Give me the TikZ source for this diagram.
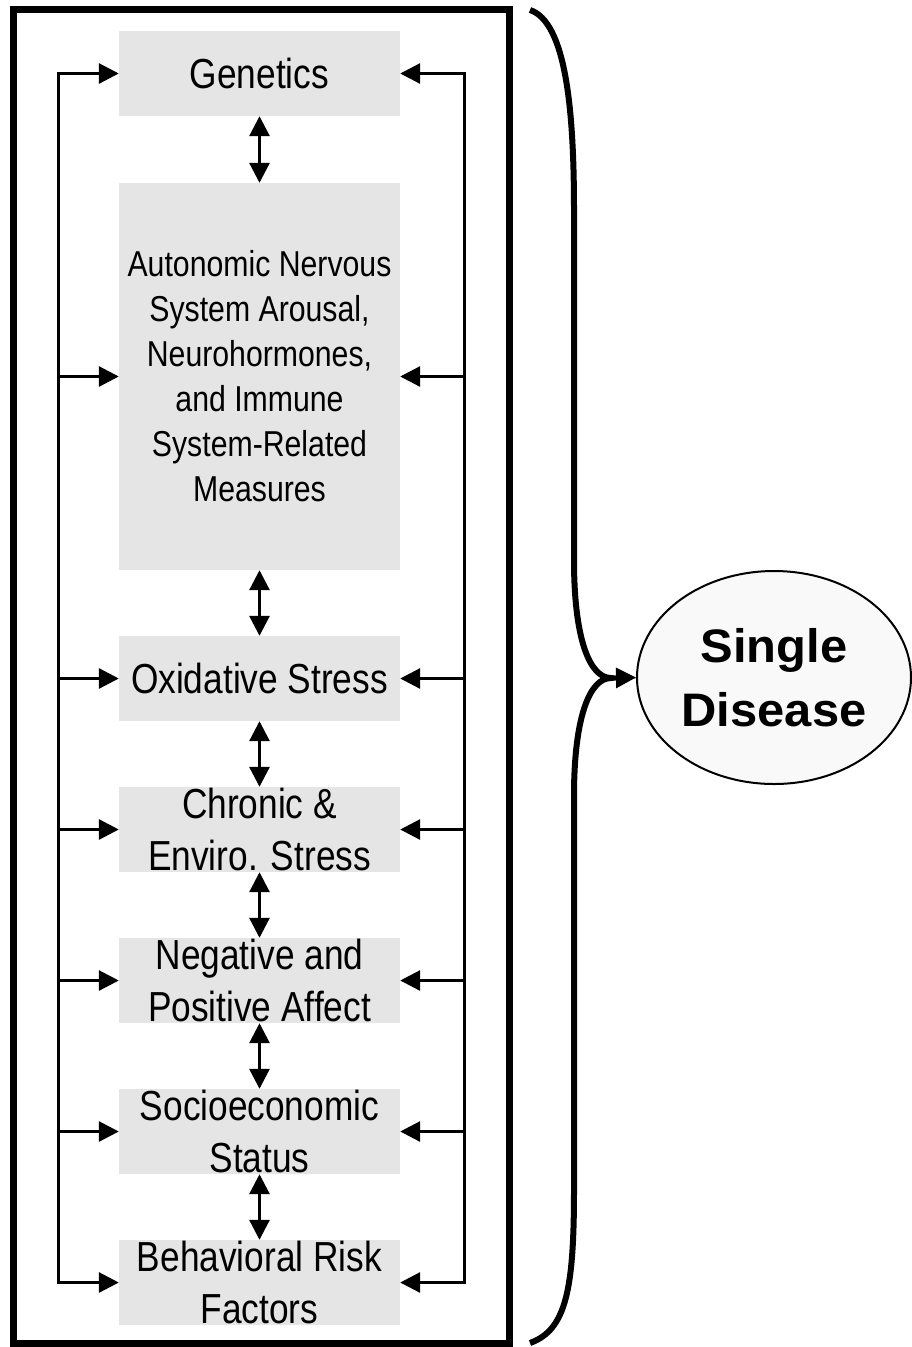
\documentclass[tikz,border=0pt]{standalone}
\usepackage{fontspec}
\setmainfont{Liberation Sans}
\newfontfamily\narrowfont{Liberation Sans}[FakeStretch=0.84]
\newfontfamily\widefont{Liberation Sans}[FakeStretch=1.04]
\usetikzlibrary{arrows.meta,shapes.geometric}
\definecolor{boxgray}{RGB}{229,229,229}
\definecolor{ellfill}{RGB}{249,249,249}
\begin{document}
\begin{tikzpicture}[x=1pt,y=-1pt,
  factor/.style={fill=boxgray, minimum width=281pt, minimum height=85pt,
    inner sep=0pt, align=center, font=\narrowfont\fontsize{42}{52}\selectfont},
  conn/.style={line width=3pt, -{Triangle[length=20pt,width=20pt]}},
  dbl/.style={line width=3pt, {Triangle[length=20pt,width=20pt]}-{Triangle[length=20pt,width=20pt]}},
  frame/.style={line width=7pt},
  bracestyle/.style={line width=6pt},
  disease/.style={ellipse, draw, line width=2pt, fill=ellfill,
    minimum width=274pt, minimum height=213pt, inner sep=0pt, align=center,
    font=\widefont\bfseries\fontsize{47}{64}\selectfont}
]
\useasboundingbox (0,0) rectangle (911,1347);
% outer frame
\draw[frame] (13,9) rectangle (509,1343);
% factor boxes
\node[factor] (gen) at (259.5,73.5) {Genetics};
\node[factor, minimum height=387pt, font=\narrowfont\fontsize{36}{45}\selectfont] (ans) at (259.5,376.5)
  {Autonomic Nervous\\System Arousal,\\Neurohormones,\\and Immune\\System-Related\\Measures};
\node[factor] (ox) at (259.5,678.5) {Oxidative Stress};
\node[factor] (chr) at (259.5,829.5) {Chronic \&\\Enviro. Stress};
\node[factor] (aff) at (259.5,980.5) {Negative and\\Positive Affect};
\node[factor] (ses) at (259.5,1131.5) {Socioeconomic\\Status};
\node[factor] (beh) at (259.5,1282.5) {Behavioral Risk\\Factors};
% spine coordinates
\coordinate (lx) at (58,0);
\coordinate (rx) at (464,0);
% left spine
\draw[dbl] (gen.west) -- (gen.west -| lx) -- (beh.west -| lx) -- (beh.west);
\foreach \n in {ans,ox,chr,aff,ses}
  \draw[conn] (\n.west -| lx) -- (\n.west);
% right spine
\draw[dbl] (gen.east) -- (gen.east -| rx) -- (beh.east -| rx) -- (beh.east);
\foreach \n in {ans,ox,chr,aff,ses}
  \draw[conn] (\n.east -| rx) -- (\n.east);
% vertical double arrows
\draw[dbl] (gen.south) -- (ans.north);
\draw[dbl] (ans.south) -- (ox.north);
\draw[dbl] (ox.south) -- (chr.north);
\draw[dbl] (chr.south) -- (aff.north);
\draw[dbl] (aff.south) -- (ses.north);
\draw[dbl] (ses.south) -- (beh.north);
% disease
\node[disease] (dis) at (774,677.5) {Single\\Disease};
% brace
\coordinate (tip) at (611,678);
\draw[bracestyle] (530,10) .. controls (566,22) and (574,110) .. (574,210)
  -- (574,560) .. controls (574,640) and (590,678) .. (tip)
  .. controls (590,678) and (574,716) .. (574,796)
  -- (574,1190) .. controls (574,1290) and (566,1330) .. (530,1343);
\draw[conn] (tip) -- (dis.west);
\end{tikzpicture}
\end{document}
